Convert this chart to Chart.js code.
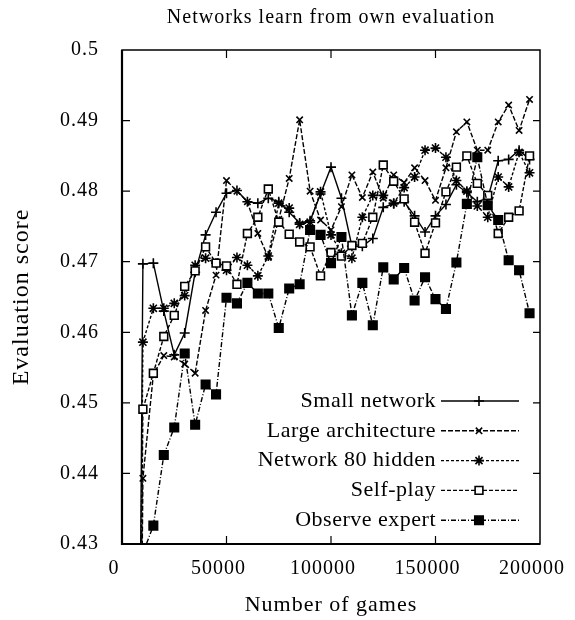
<!DOCTYPE html>
<html>
<head>
<meta charset="utf-8">
<title>Networks learn from own evaluation</title>
<script src="https://cdn.jsdelivr.net/npm/chart.js@4.4.0/dist/chart.umd.min.js"></script>
<style>
  body { margin: 0; background: #fff; }
</style>
</head>
<body>
<canvas id="myChart" width="575" height="620"></canvas>
<script>
// data (games played vs evaluation score)
const games = [5000, 10000, 15000, 20000, 25000, 30000, 35000, 40000, 45000, 50000,
    55000, 60000, 65000, 70000, 75000, 80000, 85000, 90000, 95000, 100000,
    105000, 110000, 115000, 120000, 125000, 130000, 135000, 140000, 145000, 150000,
    155000, 160000, 165000, 170000, 175000, 180000, 185000, 190000, 195000];

const smallNetwork = [0.28, 0.4697, 0.4698, 0.4630, 0.4568, 0.4599, 0.4685, 0.4738, 0.4770, 0.4797,
    0.4801, 0.4785, 0.4783, 0.4790, 0.4785, 0.4770, 0.4755, 0.4758, 0.4796, 0.4834,
    0.4790, 0.4722, 0.4722, 0.4733, 0.4777, 0.4782, 0.4785, 0.4765, 0.4742, 0.4765,
    0.4781, 0.4809, 0.4798, 0.4785, 0.4790, 0.4843, 0.4845, 0.4858, 0.4845];

const largeArchitecture = [0.28, 0.4393, 0.4540, 0.4567, 0.4565, 0.4555, 0.4542, 0.4631, 0.4681, 0.4815,
    0.4800, 0.4785, 0.4740, 0.4706, 0.4760, 0.4818, 0.4901, 0.4800, 0.4759, 0.4745,
    0.4778, 0.4823, 0.4791, 0.4827, 0.4790, 0.4823, 0.4812, 0.4833, 0.4815, 0.4787,
    0.4833, 0.4884, 0.4898, 0.4858, 0.4858, 0.4898, 0.4922, 0.4886, 0.4930];

const network80Hidden = [0.28, 0.4586, 0.4634, 0.4634, 0.4641, 0.4652, 0.4695, 0.4705, 0.4698, 0.4688,
    0.4706, 0.4695, 0.4680, 0.4708, 0.4783, 0.4776, 0.4753, 0.4756, 0.4799, 0.4738,
    0.4712, 0.4705, 0.4763, 0.4794, 0.4794, 0.4783, 0.4805, 0.4820, 0.4858, 0.4861,
    0.4848, 0.4815, 0.4800, 0.4779, 0.4763, 0.4820, 0.4806, 0.4855, 0.4826];

const selfPlay = [0.28, 0.4491, 0.4542, 0.4594, 0.4624, 0.4665, 0.4687, 0.4721, 0.4698, 0.4694,
    0.4668, 0.4740, 0.4763, 0.4803, 0.4756, 0.4739, 0.4728, 0.4721, 0.4680, 0.4713,
    0.4708, 0.4723, 0.4726, 0.4763, 0.4837, 0.4814, 0.4789, 0.4756, 0.4712, 0.4755,
    0.4799, 0.4834, 0.4850, 0.4811, 0.4794, 0.4740, 0.4763, 0.4772, 0.4850];

const observeExpert = [0.28, 0.4287, 0.4326, 0.4426, 0.4465, 0.4570, 0.4469, 0.4526, 0.4512, 0.4649,
    0.4641, 0.4670, 0.4655, 0.4655, 0.4606, 0.4662, 0.4668, 0.4745, 0.4738, 0.4698,
    0.4735, 0.4624, 0.4670, 0.4610, 0.4692, 0.4675, 0.4691, 0.4645, 0.4678, 0.4647,
    0.4633, 0.4699, 0.4782, 0.4848, 0.4780, 0.4759, 0.4702, 0.4688, 0.4627];

const seriesNames = ['Small network', 'Large architecture', 'Network 80 hidden', 'Self-play', 'Observe expert'];
const xTickStep = 50000;
const yTickStep = 0.01;

const FONT = 'Liberation Serif';
const SPACING = '1px';

function pairs(values) {
    return games.map((g, i) => ({ x: g, y: values[i] }));
}

function series(i, values, style) {
    return Object.assign({
        label: seriesNames[i],
        data: pairs(values),
        borderColor: '#000',
        borderWidth: 1.4,
        pointBorderColor: '#000',
        pointBackgroundColor: '#000',
        pointBorderWidth: 1.6,
        tension: 0,
        fill: false,
        order: 4 - i,
    }, style);
}

const datasets = [
    series(0, smallNetwork, { borderDash: [], pointStyle: 'cross', pointRadius: 5 }),
    series(1, largeArchitecture, { borderDash: [5, 2], pointStyle: 'crossRot', pointRadius: 4.5 }),
    series(2, network80Hidden, { borderDash: [3, 2], pointStyle: 'star', pointRadius: 5 }),
    series(3, selfPlay, { borderDash: [4, 2], pointStyle: 'rect', pointRadius: 5.5, pointBackgroundColor: '#fff' }),
    series(4, observeExpert, { borderDash: [5, 2, 1, 2], pointStyle: 'rect', pointRadius: 6 }),
];

// frame, inward ticks and the legend sitting inside the plot
const framePlugin = {
    id: 'frame',
    beforeDraw(chart) {
        chart.ctx.letterSpacing = SPACING;
    },
    afterDraw(chart) {
        const { ctx, chartArea: a, scales: { x, y } } = chart;
        ctx.save();
        ctx.setLineDash([]);
        ctx.strokeStyle = '#000';
        ctx.lineWidth = 1.5;
        ctx.strokeRect(a.left, a.top, a.right - a.left, a.bottom - a.top);
        ctx.lineWidth = 2.2;
        ctx.beginPath();
        ctx.moveTo(a.left, a.top); ctx.lineTo(a.left, a.bottom); ctx.lineTo(a.right, a.bottom);
        ctx.stroke();

        ctx.lineWidth = 1.2;
        ctx.beginPath();
        x.ticks.forEach(t => {
            const px = x.getPixelForValue(t.value);
            if (px <= a.left + 1 || px >= a.right - 1) return;
            ctx.moveTo(px, a.bottom); ctx.lineTo(px, a.bottom - 8);
            ctx.moveTo(px, a.top); ctx.lineTo(px, a.top + 8);
        });
        y.ticks.forEach(t => {
            const py = y.getPixelForValue(t.value);
            if (py <= a.top + 1 || py >= a.bottom - 1) return;
            ctx.moveTo(a.left, py); ctx.lineTo(a.left + 8, py);
            ctx.moveTo(a.right, py); ctx.lineTo(a.right - 7, py);
        });
        ctx.stroke();

        // legend
        chart.data.datasets.forEach((ds, i) => {
            const ly = 401 + i * 29.8;
            ctx.letterSpacing = '0.5px';
            ctx.font = '22px "' + FONT + '"';
            ctx.fillStyle = '#000';
            ctx.textAlign = 'right';
            ctx.textBaseline = 'middle';
            ctx.fillText(ds.label, 436, ly);

            ctx.strokeStyle = '#000';
            ctx.lineWidth = ds.borderWidth;
            ctx.setLineDash(ds.borderDash);
            ctx.beginPath();
            ctx.moveTo(441, ly);
            ctx.lineTo(519, ly);
            ctx.stroke();
            ctx.setLineDash([]);

            ctx.fillStyle = ds.pointBackgroundColor;
            ctx.lineWidth = ds.pointBorderWidth;
            Chart.helpers.drawPoint(ctx, {
                pointStyle: ds.pointStyle,
                radius: ds.pointRadius,
                rotation: 0,
                borderWidth: ds.pointBorderWidth
            }, 479, ly);
        });
        ctx.restore();
    }
};

const config = {
    type: 'line',
    data: { datasets },
    options: {
        responsive: false,
        animation: false,
        layout: { padding: { top: 0, right: 29, bottom: 0, left: 0 } },
        plugins: {
            legend: { display: false },
            tooltip: { enabled: false },
            title: {
                display: true,
                fullSize: false,
                text: 'Networks learn from own evaluation',
                color: '#000',
                font: { family: FONT, size: 20, weight: 'normal' },
                padding: { top: 6, bottom: 20 }
            }
        },
        scales: {
            x: {
                type: 'linear',
                min: 0,
                max: 200000,
                grid: { display: false },
                border: { display: false },
                ticks: {
                    stepSize: xTickStep,
                    maxRotation: 0,
                    autoSkip: false,
                    padding: 5,
                    labelOffset: -8,
                    color: '#000',
                    font: { family: FONT, size: 20 },
                    callback: v => String(v)
                },
                title: {
                    display: true,
                    text: 'Number of games',
                    color: '#000',
                    font: { family: FONT, size: 22 },
                    padding: { top: 0, bottom: 2 }
                },
                afterFit(s) { s.height = 76; }
            },
            y: {
                min: 0.43,
                max: 0.5,
                grid: { display: false },
                border: { display: false },
                ticks: {
                    stepSize: yTickStep,
                    padding: 15,
                    color: '#000',
                    font: { family: FONT, size: 20 },
                    callback: v => String(+v.toFixed(2))
                },
                title: {
                    display: true,
                    text: 'Evaluation score',
                    color: '#000',
                    font: { family: FONT, size: 24 },
                    padding: { top: 7, bottom: 0 }
                },
                afterFit(s) { s.width = 122; }
            }
        }
    },
    plugins: [framePlugin]
};

const myChart = new Chart(document.getElementById('myChart'), config);
</script>
</body>
</html>
